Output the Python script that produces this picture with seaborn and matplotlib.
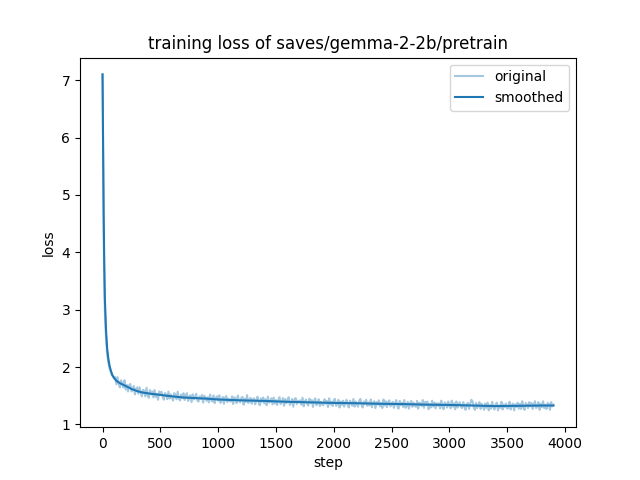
import matplotlib
matplotlib.use("Agg")
import matplotlib.pyplot as plt
import pandas as pd
import seaborn as sns

# raw loss values
orig_steps = [0, 5, 10, 15, 20, 30, 40, 50, 60, 70, 80, 90, 100] + list(range(110, 3901, 10))
orig_loss = [
    7.10, 5.60, 4.30, 3.50, 2.95, 2.50, 2.22, 2.08, 1.98, 1.92, 1.86, 1.84, 1.80,
    # 110 - 300
    1.825, 1.70, 1.825, 1.71, 1.645, 1.77, 1.715, 1.645, 1.77, 1.61,
    1.69, 1.575, 1.685, 1.705, 1.575, 1.60, 1.67, 1.525, 1.62, 1.645,
    # 310 - 500
    1.535, 1.65, 1.555, 1.49, 1.605, 1.585, 1.49, 1.64, 1.515, 1.465,
    1.60, 1.52, 1.575, 1.47, 1.60, 1.48, 1.535, 1.43, 1.575, 1.545,
    # 510 - 700
    1.57, 1.478, 1.431, 1.549, 1.517, 1.44, 1.573, 1.451, 1.524, 1.477,
    1.415, 1.548, 1.516, 1.439, 1.572, 1.45, 1.418, 1.521, 1.459, 1.545,
    # 710 - 900
    1.425, 1.50, 1.545, 1.41, 1.455, 1.51, 1.39, 1.525, 1.435, 1.48,
    1.535, 1.415, 1.40, 1.49, 1.445, 1.515, 1.38, 1.50, 1.47, 1.41,
    # 910 - 1100
    1.475, 1.385, 1.52, 1.43, 1.40, 1.505, 1.37, 1.46, 1.49, 1.415,
    1.51, 1.375, 1.42, 1.48, 1.36, 1.465, 1.495, 1.39, 1.45, 1.405,
    # 1110 - 1300
    1.40, 1.49, 1.355, 1.475, 1.445, 1.37, 1.505, 1.415, 1.385, 1.46,
    1.48, 1.345, 1.45, 1.39, 1.51, 1.375, 1.405, 1.465, 1.36, 1.435,
    # 1310 - 1500
    1.455, 1.35, 1.425, 1.485, 1.38, 1.335, 1.455, 1.395, 1.47, 1.365,
    1.44, 1.335, 1.485, 1.38, 1.395, 1.455, 1.35, 1.47, 1.365, 1.425,
    # 1510 - 1700
    1.34, 1.43, 1.475, 1.355, 1.385, 1.46, 1.325, 1.445, 1.37, 1.415,
    1.475, 1.34, 1.37, 1.445, 1.31, 1.43, 1.46, 1.355, 1.415, 1.385,
    # 1710 - 1900
    1.42, 1.345, 1.465, 1.315, 1.405, 1.435, 1.36, 1.33, 1.45, 1.375,
    1.425, 1.305, 1.41, 1.455, 1.335, 1.365, 1.44, 1.32, 1.395, 1.35,
    # 1910 - 2100
    1.335, 1.44, 1.365, 1.41, 1.305, 1.455, 1.35, 1.395, 1.32, 1.425,
    1.445, 1.325, 1.355, 1.43, 1.295, 1.40, 1.34, 1.415, 1.31, 1.385,
    # 2110 - 2300
    1.43, 1.34, 1.295, 1.415, 1.385, 1.325, 1.445, 1.31, 1.40, 1.355,
    1.31, 1.415, 1.445, 1.34, 1.295, 1.40, 1.355, 1.43, 1.325, 1.385,
    # 2310 - 2500
    1.33, 1.435, 1.30, 1.375, 1.405, 1.285, 1.39, 1.345, 1.42, 1.315,
    1.375, 1.285, 1.435, 1.33, 1.405, 1.30, 1.39, 1.42, 1.315, 1.345,
    # 2510 - 2700
    1.395, 1.29, 1.365, 1.425, 1.32, 1.275, 1.41, 1.335, 1.38, 1.305,
    1.425, 1.29, 1.32, 1.395, 1.275, 1.365, 1.41, 1.305, 1.38, 1.335,
    # 2710 - 2900
    1.305, 1.41, 1.275, 1.38, 1.365, 1.32, 1.425, 1.29, 1.395, 1.335,
    1.40, 1.265, 1.355, 1.295, 1.415, 1.31, 1.385, 1.28, 1.37, 1.325,
    # 2910 - 3100
    1.37, 1.28, 1.415, 1.31, 1.265, 1.385, 1.355, 1.295, 1.40, 1.325,
    1.28, 1.415, 1.31, 1.37, 1.265, 1.40, 1.295, 1.355, 1.385, 1.31,
    # 3110 - 3300
    1.285, 1.39, 1.315, 1.255, 1.36, 1.375, 1.27, 1.36, 1.43, 1.405,
    1.30, 1.255, 1.375, 1.285, 1.345, 1.39, 1.27, 1.36, 1.315, 1.255,
    # 3310 - 3500
    1.365, 1.29, 1.38, 1.245, 1.335, 1.275, 1.395, 1.305, 1.26, 1.35,
    1.38, 1.245, 1.335, 1.29, 1.395, 1.26, 1.35, 1.305, 1.365, 1.275,
    # 3510 - 3700
    1.29, 1.395, 1.26, 1.335, 1.365, 1.245, 1.35, 1.305, 1.38, 1.275,
    1.36, 1.27, 1.405, 1.30, 1.255, 1.375, 1.345, 1.285, 1.39, 1.315,
    # 3710 - 3900
    1.375, 1.27, 1.345, 1.405, 1.285, 1.315, 1.39, 1.255, 1.36, 1.30,
    1.405, 1.285, 1.345, 1.27, 1.375, 1.36, 1.255, 1.39, 1.315, 1.345,
]

# smoothed curve
smooth_steps = [0, 5, 10, 15, 20, 30, 40, 50, 60, 70, 85, 100, 120, 150, 200, 250,
                300, 350, 400, 500, 600, 700, 800, 900, 1000, 1200, 1400, 1600,
                1800, 2000, 2200, 2400, 2600, 2800, 3000, 3200, 3400, 3600, 3800, 3900]
smooth_loss = [7.10, 5.80, 4.60, 3.80, 3.20, 2.65, 2.32, 2.15, 2.03, 1.95, 1.86, 1.81,
               1.76, 1.72, 1.67, 1.62, 1.58, 1.555, 1.54, 1.515, 1.49, 1.47, 1.46,
               1.45, 1.435, 1.42, 1.41, 1.395, 1.385, 1.375, 1.37, 1.36, 1.355,
               1.345, 1.34, 1.33, 1.32, 1.325, 1.33, 1.33]

df_orig = pd.DataFrame({'step': orig_steps, 'loss': orig_loss})
df_smooth = pd.DataFrame({'step': smooth_steps, 'loss': smooth_loss})

plt.figure(figsize=(6.4, 4.8), dpi=100)
sns.lineplot(data=df_orig, x='step', y='loss', color='#1f77b4', alpha=0.4, label='original')
sns.lineplot(data=df_smooth, x='step', y='loss', color='#1f77b4', label='smoothed')
plt.title('training loss of saves/gemma-2-2b/pretrain')
plt.xlabel('step')
plt.ylabel('loss')
plt.legend(loc='upper right')
plt.savefig('out.png', dpi=100)
